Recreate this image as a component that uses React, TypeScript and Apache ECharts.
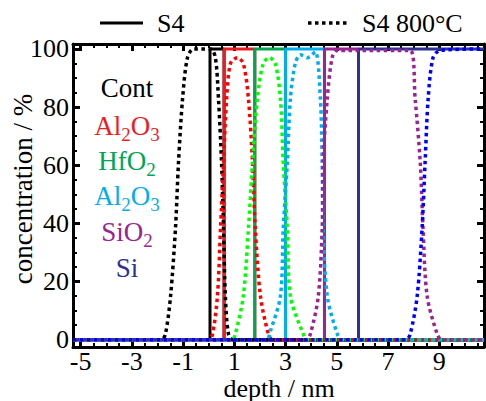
import React, { useEffect, useRef } from 'react';
import * as echarts from 'echarts';

const FONT = 'Liberation Serif';

const X_MIN = -5.3;
const X_MAX = 10.75;
const Y_MIN = -2.5;
const Y_MAX = 101.7;

const xTickValues = [-5, -3, -1, 1, 3, 5, 7, 9];
const yTickValues = [0, 20, 40, 60, 80, 100];

// S4 (as deposited): step profiles, [depth / nm, concentration / %]
const contS4 = [[X_MIN, 0], [0.05, 0], [0.05, 100], [0.6, 100], [0.6, 0], [X_MAX, 0]];
const al2o3TopS4 = [[X_MIN, 0], [0.6, 0], [0.6, 100], [1.8, 100], [1.8, 0], [X_MAX, 0]];
const hfo2S4 = [[X_MIN, 0], [1.8, 0], [1.8, 100], [3.0, 100], [3.0, 0], [X_MAX, 0]];
const al2o3BotS4 = [[X_MIN, 0], [3.0, 0], [3.0, 100], [4.52, 100], [4.52, 0], [X_MAX, 0]];
const sio2S4 = [[X_MIN, 0], [4.52, 0], [4.52, 100], [5.85, 100], [5.85, 0], [X_MAX, 0]];
const siS4 = [[X_MIN, 0], [5.85, 0], [5.85, 100], [X_MAX, 100]];

// S4 800°C: diffused profiles
const contAnn = [[X_MIN, 0], [-1.85, 0], [-1.69, 2], [-1.49, 15], [-1.3, 38], [-1.18, 61], [-1.02, 83], [-0.83, 97], [-0.59, 100], [0.07, 100], [0.26, 97], [0.38, 83], [0.5, 61], [0.58, 38], [0.65, 15], [0.77, 2], [0.95, 0], [X_MAX, 0]];
const al2o3TopAnn = [[X_MIN, 0], [0.0, 0], [0.15, 2], [0.34, 15], [0.46, 38], [0.58, 61], [0.7, 83], [0.85, 95], [1.12, 97], [1.35, 95], [1.55, 83], [1.71, 61], [1.82, 38], [2.02, 15], [2.33, 2], [2.5, 0], [X_MAX, 0]];
const hfo2Ann = [[X_MIN, 0], [0.9, 0], [1.04, 2], [1.35, 15], [1.55, 38], [1.71, 61], [1.9, 83], [2.13, 95], [2.37, 97], [2.6, 95], [2.8, 83], [2.91, 61], [3.07, 38], [3.19, 15], [3.69, 2], [3.85, 0], [X_MAX, 0]];
const al2o3BotAnn = [[X_MIN, 0], [2.25, 0], [2.41, 3], [2.8, 15], [2.91, 38], [3.07, 61], [3.19, 83], [3.38, 95], [3.58, 98], [3.85, 97], [4.16, 99], [4.36, 83], [4.43, 61], [4.47, 38], [4.63, 15], [5.02, 2], [5.2, 0], [X_MAX, 0]];
const sio2Ann = [[X_MIN, 0], [3.8, 0], [3.97, 2], [4.28, 15], [4.43, 38], [4.47, 61], [4.63, 83], [4.82, 97], [5.02, 99.5], [7.87, 99.5], [8.06, 83], [8.26, 61], [8.37, 38], [8.53, 15], [8.92, 2], [9.1, 0], [X_MAX, 0]];
const siAnn = [[X_MIN, 0], [7.7, 0], [7.87, 2], [8.14, 15], [8.33, 38], [8.45, 61], [8.57, 83], [8.76, 97], [9.04, 99.5], [X_MAX, 100]];

const solidSeries = [
  { name: 'Cont S4', data: contS4, color: '#000000' },
  { name: 'Al2O3 S4', data: al2o3TopS4, color: '#ed1c24' },
  { name: 'HfO2 S4', data: hfo2S4, color: '#00a651' },
  { name: 'Al2O3 (2) S4', data: al2o3BotS4, color: '#00aeef' },
  { name: 'SiO2 S4', data: sio2S4, color: '#9a2490' },
  { name: 'Si S4', data: siS4, color: '#2e3192' },
];
const dottedSeries = [
  { name: 'Cont 800', data: contAnn, color: '#000000' },
  { name: 'Al2O3 800', data: al2o3TopAnn, color: '#ff0000' },
  { name: 'HfO2 800', data: hfo2Ann, color: '#00ff00' },
  { name: 'Al2O3 (2) 800', data: al2o3BotAnn, color: '#00aeef' },
  { name: 'SiO2 800', data: sio2Ann, color: '#9a2490' },
  { name: 'Si 800', data: siAnn, color: '#0000ff' },
];

const layerLabels: { parts: [string, boolean][]; color: string }[] = [
  { parts: [['Cont', false]], color: '#000000' },
  { parts: [['Al', false], ['2', true], ['O', false], ['3', true]], color: '#ed1c24' },
  { parts: [['HfO', false], ['2', true]], color: '#00a651' },
  { parts: [['Al', false], ['2', true], ['O', false], ['3', true]], color: '#00aeef' },
  { parts: [['SiO', false], ['2', true]], color: '#9a2490' },
  { parts: [['Si', false]], color: '#2e3192' },
];

const xMinor: number[] = [];
for (let v = -5; v <= 10.5 + 1e-9; v += 0.5) xMinor.push(+v.toFixed(2));
const yMinor: number[] = [];
for (let v = 0; v <= 100; v += 5) yMinor.push(v);

function measure(text: string, size: number) {
  const c = document.createElement('canvas').getContext('2d')!;
  c.font = `${size}px ${FONT}`;
  return c.measureText(text).width;
}

function textEl(text: string, x: number, y: number, size: number, color: string, align = 'left', extra: any = {}, lineHeight?: number) {
  const style: any = {
    text,
    fill: color,
    fontSize: size,
    fontFamily: FONT,
    align,
    verticalAlign: 'middle',
  };
  if (lineHeight) style.lineHeight = lineHeight;
  return { type: 'text', x, y, ...extra, style };
}

function formula(parts: [string, boolean][], cx: number, cy: number, color: string) {
  const MAIN = 27;
  const SUB = 19;
  const widths = parts.map(([t, sub]) => measure(t, sub ? SUB : MAIN));
  const total = widths.reduce((a, b) => a + b, 0);
  let x = cx - total / 2;
  const children: any[] = [];
  parts.forEach(([t, sub], i) => {
    children.push(textEl(t, x, cy + (sub ? 8 : 0), sub ? SUB : MAIN, color, 'left', {}, sub ? 17 : 24));
    x += widths[i];
  });
  return children;
}

function makeXAxis(position: string, values: number[], len: number, width: number, showLine: boolean, showLabel: boolean) {
  return {
    type: 'value',
    min: X_MIN,
    max: X_MAX,
    position,
    axisLine: { show: showLine, onZero: false, lineStyle: { color: '#000', width: 3 } },
    axisTick: { show: true, inside: true, length: len, customValues: values, lineStyle: { color: '#000', width } },
    axisLabel: showLabel
      ? { show: true, customValues: values, fontSize: 26, lineHeight: 22, fontFamily: FONT, color: '#000', margin: 3 }
      : { show: false },
    splitLine: { show: false },
  };
}
function makeYAxis(position: string, values: number[], len: number, width: number, showLine: boolean, showLabel: boolean) {
  return {
    type: 'value',
    min: Y_MIN,
    max: Y_MAX,
    position,
    axisLine: { show: showLine, onZero: false, lineStyle: { color: '#000', width: 3 } },
    axisTick: { show: true, inside: true, length: len, customValues: values, lineStyle: { color: '#000', width } },
    axisLabel: showLabel
      ? { show: true, customValues: values, fontSize: 26, lineHeight: 22, fontFamily: FONT, color: '#000', margin: 4 }
      : { show: false },
    splitLine: { show: false },
  };
}

export default function App() {
  const ref = useRef<HTMLDivElement>(null);
  useEffect(() => {
    if (!ref.current) return;
    const chart = echarts.init(ref.current, undefined, { renderer: 'svg' });

    const series: any[] = [];
    solidSeries.forEach((s) => {
      series.push({
        type: 'line',
        name: s.name,
        data: s.data,
        symbol: 'none',
        showSymbol: false,
        silent: true,
        lineStyle: { color: s.color, width: 3, type: 'solid' },
      });
    });
    dottedSeries.forEach((s) => {
      series.push({
        type: 'line',
        name: s.name,
        data: s.data,
        symbol: 'none',
        showSymbol: false,
        silent: true,
        smooth: 0.3,
        lineStyle: { color: s.color, width: 3.5, type: [3.5, 3.5], cap: 'butt' },
      });
    });

    const labelY = [88, 126, 161, 196, 232, 268];
    const labelChildren: any[] = [];
    layerLabels.forEach((l, i) => {
      labelChildren.push(...formula(l.parts, 127, labelY[i], l.color));
    });

    chart.setOption({
      animation: false,
      backgroundColor: '#ffffff',
      textStyle: { fontFamily: FONT },
      grid: { left: 73, right: 2, top: 44, bottom: 54, containLabel: false },
      xAxis: [
        makeXAxis('bottom', xTickValues, 7, 3, true, true),
        makeXAxis('bottom', xMinor, 4, 2, false, false),
        makeXAxis('top', xTickValues, 7, 3, true, false),
        makeXAxis('top', xMinor, 4, 2, false, false),
      ],
      yAxis: [
        makeYAxis('left', yTickValues, 7, 3, true, true),
        makeYAxis('left', yMinor, 4, 2, false, false),
        makeYAxis('right', yTickValues, 7, 3, true, false),
        makeYAxis('right', yMinor, 4, 2, false, false),
      ],
      series,
      graphic: [
        { type: 'line', shape: { x1: 100, y1: 23, x2: 143, y2: 23 }, style: { stroke: '#000', lineWidth: 3 } },
        textEl('S4', 157, 23, 26, '#000'),
        { type: 'line', shape: { x1: 308, y1: 23, x2: 350, y2: 23 }, style: { stroke: '#000', lineWidth: 3.5, lineDash: [3.5, 3.5] } },
        textEl('S4 800°C', 362, 23, 26, '#000'),
        textEl('depth / nm', 279, 388, 26, '#000', 'center', {}, 24),
        textEl('concentration / %', 23, 189, 27, '#000', 'center', { rotation: Math.PI / 2 }, 26),
        { type: 'group', children: labelChildren },
      ],
    });
    return () => chart.dispose();
  }, []);
  return <div ref={ref} style={{ position: 'fixed', left: 0, top: 0, width: 486, height: 401, background: '#fff' }} />;
}
